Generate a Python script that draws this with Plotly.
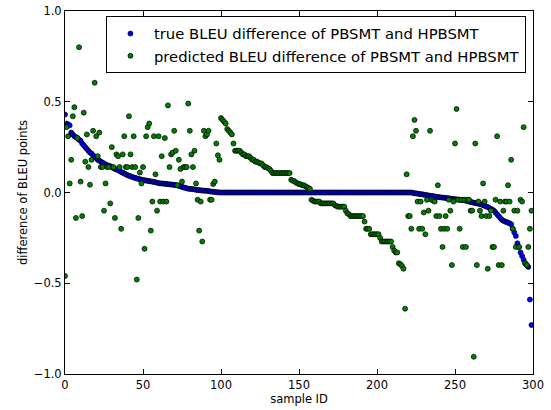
import plotly.graph_objects as go

sample_id = list(range(300))

true_diff = [
    0.43, 0.38, 0.375, 0.37, 0.33, 0.32, 0.31, 0.305, 0.30, 0.29,
    0.285, 0.27, 0.26, 0.25, 0.24, 0.23, 0.22, 0.215, 0.205, 0.197,
    0.19, 0.18, 0.175, 0.17, 0.165, 0.16, 0.155, 0.15, 0.148, 0.145,
    0.14, 0.135, 0.13, 0.128, 0.123, 0.118, 0.113, 0.109, 0.105, 0.10,
    0.096, 0.092, 0.09, 0.086, 0.083, 0.08, 0.078, 0.075, 0.073, 0.071,
    0.069, 0.067, 0.066, 0.064, 0.063, 0.061, 0.06, 0.058, 0.056, 0.054,
    0.052, 0.05, 0.05, 0.049, 0.048, 0.047, 0.046, 0.045, 0.044, 0.043,
    0.042, 0.041, 0.039, 0.037, 0.034, 0.031, 0.028, 0.026, 0.023, 0.021,
    0.02, 0.019, 0.018, 0.017, 0.015, 0.014, 0.013, 0.012, 0.011, 0.01,
    0.01, 0.009, 0.008, 0.006, 0.005, 0.004, 0.003, 0.002, 0.001, 0.0,
] + [0.0] * 123 + [
    -0.002, -0.004, -0.005, -0.006, -0.008, -0.009, -0.01, -0.012, -0.013, -0.015,
    -0.016, -0.018, -0.019, -0.02, -0.022, -0.023, -0.025, -0.026, -0.027, -0.028,
    -0.029, -0.03, -0.031, -0.032, -0.034, -0.035, -0.036, -0.037, -0.038, -0.039,
    -0.04, -0.041, -0.042, -0.043, -0.045, -0.047, -0.05, -0.052, -0.054, -0.056,
    -0.058, -0.06, -0.062, -0.063, -0.066, -0.07, -0.073, -0.077, -0.08, -0.085,
    -0.09, -0.095, -0.10, -0.11, -0.12, -0.13, -0.14, -0.15, -0.155, -0.16,
    -0.163, -0.166, -0.17, -0.175, -0.20, -0.22, -0.24, -0.28, -0.30, -0.33,
    -0.35, -0.37, -0.39, -0.40, -0.41, -0.59, -0.73,
]

pred_diff = [
    -0.46, 0.36, 0.31, 0.05, 0.18, 0.42, 0.47, -0.14, 0.30, 0.80,
    0.06, -0.13, 0.44, 0.17, 0.32, 0.14, 0.043, 0.18, 0.34, 0.605,
    0.31, 0.20, 0.33, 0.14, 0.14, -0.10, 0.05, 0.14, 0.14, -0.06,
    0.25, 0.14, -0.14, 0.21, 0.20, 0.14, -0.20, 0.21, 0.31, 0.14,
    0.14, 0.42, 0.21, 0.14, 0.31, 0.14, -0.48, -0.14, 0.11, 0.05,
    0.14, -0.31, 0.31, 0.36, 0.38, -0.21, -0.05, 0.31, 0.10, -0.10,
    0.31, -0.05, 0.20, -0.05, 0.30, -0.05, 0.48, 0.14, 0.21, 0.22,
    0.34, 0.23, 0.04, 0.18, 0.13, 0.06, 0.14, 0.14, 0.14, 0.49,
    0.34, 0.21, 0.14, 0.23, 0.05, -0.04, -0.21, -0.05, -0.27, 0.34,
    0.31, 0.32, 0.34, -0.04, -0.04, 0.047, 0.06, 0.27, 0.205, 0.18,
    # samples with zero true difference
    0.41, 0.40, 0.39, 0.38, 0.35, 0.34, 0.33, 0.32, 0.27, 0.23,
    0.23, 0.23, 0.23, 0.22, 0.21, 0.21, 0.20, 0.20, 0.20, 0.19,
    0.18, 0.18, 0.17, 0.17, 0.165, 0.16, 0.16, 0.15, 0.14, 0.14,
    0.135, 0.13, 0.12, 0.107, 0.107, 0.107, 0.107, 0.107, 0.107, 0.107,
    0.107, 0.107, 0.107, 0.107, 0.107, 0.07, 0.065, 0.063, 0.055, 0.05,
    0.047, 0.045, 0.04, 0.04, 0.035, 0.03, 0.025, 0.02, -0.04, -0.045,
    -0.05, -0.05, -0.05, -0.05, -0.06, -0.06, -0.06, -0.06, -0.06, -0.06,
    -0.06, -0.06, -0.06, -0.07, -0.075, -0.078, -0.078, -0.078, -0.078, -0.078,
    -0.10, -0.115, -0.12, -0.13, -0.13, -0.13, -0.13, -0.13, -0.13, -0.13,
    -0.13, -0.13, -0.16, -0.20, -0.20, -0.20, -0.23, -0.23, -0.23, -0.23,
    -0.23, -0.23, -0.25, -0.27, -0.27, -0.27, -0.27, -0.27, -0.27, -0.27,
    -0.30, -0.32, -0.33, -0.33, -0.39, -0.395, -0.405, -0.42, -0.64,
    # samples with negative true difference
    0.10, -0.13, -0.13, -0.20, 0.31, 0.40, 0.34, -0.05, -0.20, -0.05,
    -0.20, -0.11, -0.23, -0.04, -0.10, 0.34, -0.04, -0.045, -0.05, -0.13,
    0.04, -0.13, -0.20, -0.30, -0.20, -0.13, -0.20, -0.04, -0.10, -0.40,
    -0.05, 0.27, 0.46, -0.04, -0.20, -0.04, -0.30, -0.04, -0.30, -0.04,
    -0.04, -0.10, -0.10, -0.905, 0.27, -0.40, -0.05, -0.10, -0.13, 0.05,
    -0.05, -0.13, -0.42, -0.13, -0.10, -0.30, -0.30, -0.04, 0.31, -0.40,
    -0.05, -0.40, -0.10, -0.05, -0.05, 0.04, -0.05, 0.18, -0.20, -0.10,
    -0.30, -0.10, -0.30, -0.04, -0.05, 0.36, -0.39, -0.40, -0.30, -0.20,
    -0.10,
]

x_ticks = [0, 50, 100, 150, 200, 250, 300]
y_ticks = [-1.0, -0.5, 0.0, 0.5, 1.0]

font_family = "DejaVu Sans"

fig = go.Figure()
fig.add_trace(go.Scatter(
    x=sample_id, y=true_diff, mode="markers",
    name="true BLEU difference of PBSMT and HPBSMT",
    marker=dict(color="#0000FF", size=5, line=dict(color="black", width=0.7)),
))
fig.add_trace(go.Scatter(
    x=sample_id, y=pred_diff, mode="markers",
    name="predicted BLEU difference of PBSMT and HPBSMT",
    marker=dict(color="#008000", size=5, line=dict(color="black", width=0.7)),
))

axis_common = dict(
    showline=True, linecolor="black", linewidth=1, mirror="ticks",
    ticks="inside", ticklen=5, tickcolor="black", tickwidth=1,
    showgrid=False, zeroline=False, automargin=False,
    tickfont=dict(family=font_family, size=11.5, color="black"),
)

fig.update_layout(
    width=551, height=410,
    margin=dict(l=65, r=18, t=11, b=36),
    paper_bgcolor="white", plot_bgcolor="white",
    font=dict(family=font_family, size=11.5, color="black"),
    xaxis=dict(range=[0, 300], tickvals=x_ticks, **axis_common,
               title=dict(text="sample ID", standoff=4,
                          font=dict(family=font_family, size=11.5))),
    yaxis=dict(range=[-1.0, 1.0], tickvals=y_ticks, tickformat=".1f", **axis_common,
               title=dict(text="difference of BLEU points", standoff=3,
                          font=dict(family=font_family, size=11.5))),
    legend=dict(
        x=0.0875, y=0.985, xanchor="left", yanchor="top",
        bgcolor="white", bordercolor="black", borderwidth=1,
        font=dict(family=font_family, size=14.8, color="black"),
        tracegroupgap=0, itemwidth=37,
    ),
    showlegend=True,
)

fig.write_html("out.html", config={"displayModeBar": False},
               post_script="document.body.style.margin='0';")
